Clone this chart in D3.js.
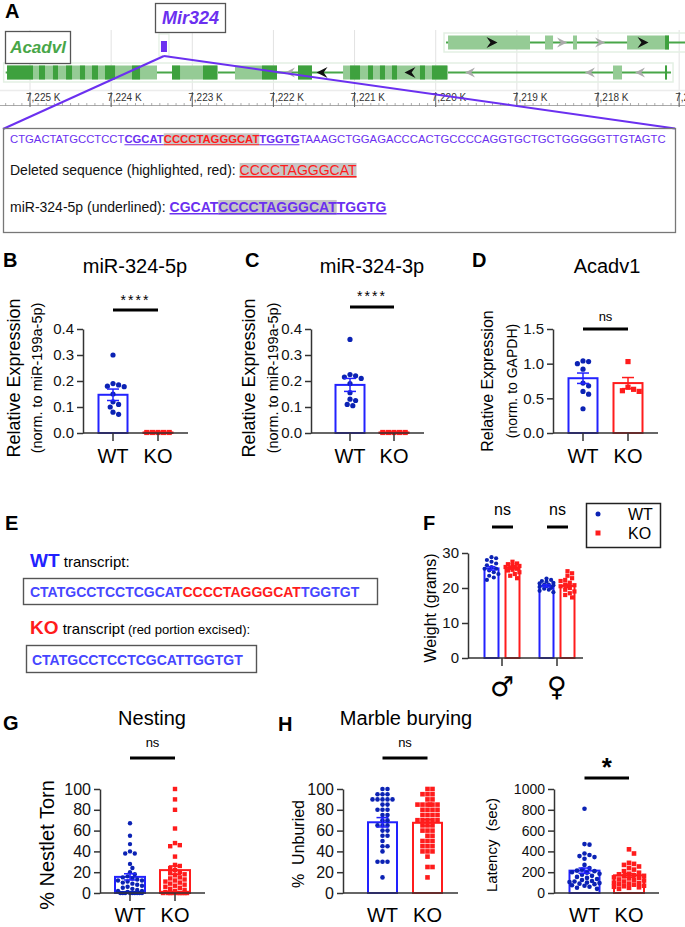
<!DOCTYPE html>
<html><head><meta charset="utf-8">
<script src="https://cdn.jsdelivr.net/npm/d3@7"></script>
<style>
body{margin:0;background:#fff}
svg{display:block}
text{font-family:"Liberation Sans",Arial,sans-serif;white-space:pre}
</style>
</head><body>
<svg id="c" width="685" height="927"></svg>
<script>
// ---------------- DATA ----------------
const groups = ["WT", "KO"];

// Panel A: genome browser (positions in kb)
const kbTicks = [7225, 7224, 7223, 7222, 7221, 7220, 7219, 7218, 7217];
const acadvlSpan = [7225.30, 7217.10];
const acadvlExons = [[7225.283,7223.435],[7223.250,7222.683],[7222.474,7221.956],[7221.697,7221.525],[7221.142,7219.848],[7217.815,7217.704],[7217.174,7217.150]];
const acadvlDark = [[7225.283,7224.963],[7224.889,7224.815],[7224.717,7224.655],[7224.556,7224.482],[7224.384,7224.322],[7224.236,7224.162],[7224.076,7223.952],[7223.743,7223.644],[7223.250,7223.151],[7222.868,7222.695],[7222.141,7221.956],[7221.697,7221.525],[7221.056,7220.933],[7220.834,7220.773],[7220.687,7220.625],[7220.539,7220.477],[7220.194,7220.132],[7220.046,7219.861],[7217.174,7217.150]];
const acadvlArrowsMain = [7221.401, 7220.317];
const acadvlArrowsMinor = [7221.796, 7219.577, 7218.099, 7217.482];
const upperSpan = [7219.873, 7216.90];
const upperExons = [[7219.848,7218.838],[7218.653,7218.554],[7218.308,7218.259],[7217.642,7217.125]];
const upperDark = [[7217.174,7217.125]];
const upperArrowsMain = [7219.306, 7217.445];
const upperArrowsMinor = [7218.443, 7217.975];
const mir324 = [7223.386, 7223.312];

const seqLine1 = [["CTGACTATGCCTCCT","plain"],["CGCAT","mir"],["CCCCTAGGGCAT","deleted"],["TGGTG","mir"],["TAAAGCTGGAGACCCACTGCCCCAGGTGCTGCTGGGGGTTGTAGTC","plain"]];
const seqLine2 = [["Deleted sequence (highlighted, red):\u00a0","label"],["CCCCTAGGGCAT","deletedNormal"]];
const seqLine3 = [["miR-324-5p (underlined):\u00a0","label"],["CGCAT","mir"],["CCCCTAGGGCAT","mirHl"],["TGGTG","mir"]];

// Panel B
const b_wt = [0.30, 0.19, 0.185, 0.18, 0.178, 0.15, 0.12, 0.11, 0.10, 0.08, 0.072];
const b_ko = [0.002, 0.002, 0.002, 0.002, 0.002];
const b_mean = [0.147, 0.002];
const b_sem = [0.022, 0.0004];
const b_ticks = [0, 0.1, 0.2, 0.3, 0.4];
// Panel C
const c_wt = [0.36, 0.225, 0.22, 0.215, 0.21, 0.19, 0.155, 0.13, 0.125, 0.11, 0.105];
const c_ko = [0.002, 0.002, 0.002, 0.002, 0.002];
const c_mean = [0.185, 0.002];
const c_sem = [0.025, 0.0004];
const c_ticks = [0, 0.1, 0.2, 0.3, 0.4];
// Panel D
const d_wt = [1.04, 1.03, 1.0, 0.92, 0.72, 0.68, 0.6, 0.56, 0.35];
const d_ko = [1.03, 0.66, 0.63, 0.61, 0.6];
const d_mean = [0.79, 0.72];
const d_sem = [0.075, 0.08];
const d_ticks = [0, 0.5, 1.0, 1.5];
// Panel E
const e_wt_seq = [["CTATGCCTCCTCGCAT","kept"],["CCCCTAGGGCAT","excised"],["TGGTGT","kept"]];
const e_ko_seq = [["CTATGCCTCCTCGCATTGGTGT","kept"]];
// Panel F
const f_sex = ["\u2642", "\u2640"];
const f_male_wt = [28.8, 28.5, 28.0, 27.5, 27.0, 26.5, 26.0, 25.5, 25.5, 25.0, 24.5, 24.0, 23.5, 23.0, 22.3];
const f_male_ko = [27.5, 27.0, 26.8, 26.5, 26.3, 26.0, 26.0, 25.8, 25.5, 25.2, 25.0, 24.5, 24.0, 23.5, 22.8];
const f_fem_wt = [22.7, 22.3, 22.0, 21.8, 21.5, 21.3, 21.0, 21.0, 20.8, 20.5, 20.3, 20.0, 19.8, 19.5, 19.2, 18.8];
const f_fem_ko = [24.8, 24.2, 23.5, 22.8, 22.3, 22.0, 21.5, 21.0, 20.8, 20.5, 20.0, 19.5, 19.0, 18.5, 18.0, 17.3];
const f_mean = [[25.6, 25.8], [20.6, 20.6]];
const f_sem = [[0.5, 0.35], [0.3, 0.5]];
const f_ticks = [0, 10, 20, 30];
// Panel G
const g_wt = [67,55,47,40,38,38,28,24,20,18,16,15,14,13,12,12,11,10,9,8,7,6,5,4,3,2,2,1,0,0,0,0,0,0,0,0,0];
const g_ko = [100,90,80,62,48,46,45,35,27,26,24,22,20,19,18,17,15,14,13,12,11,10,9,8,7,6,5,4,3,2,1,0,0,0,0,0,0,0,0,0];
const g_mean = [15.5, 22];
const g_sem = [3, 4];
const g_ticks = [0, 20, 40, 60, 80, 100];
// Panel H (unburied)
const hu_wt = [100,100,95,95,95,90,90,90,90,90,85,85,80,80,80,75,75,70,70,65,65,65,60,60,55,55,50,45,45,40,30,30,30,15];
const hu_ko = [100,100,95,95,95,90,90,85,85,85,85,85,85,80,80,80,80,75,75,75,75,70,70,70,70,70,65,65,65,60,60,60,55,55,50,50,50,45,45,45,40,40,40,35,25,25,15];
const hu_mean = [68, 67.5];
const hu_sem = [4.5, 3];
const hu_ticks = [0, 20, 40, 60, 80, 100];
// Panel H (latency)
const hl_wt = [810,470,465,380,365,355,345,330,270,240,225,215,210,200,195,185,175,165,155,145,135,125,115,110,105,100,95,90,85,75,70,60,50,40];
const hl_ko = [420,380,290,280,270,255,240,225,210,195,185,180,170,165,160,150,145,140,130,125,120,110,100,95,90,85,80,70,65,60,55,50,40];
const hl_mean = [215, 170];
const hl_sem = [25, 18];
const hl_ticks = [0, 200, 400, 600, 800, 1000];

// ---------------- STYLE ----------------
const BLUE_BAR = "#2222ff", BLUE_PT = "#0b22b4", RED = "#ff1c1c", PURPLE = "#6b30f0";
const GREEN = "#48a648", GREEN_L = "#95cb95", GREEN_D = "#2f9a2f";
const AX = "#333";
const svg = d3.select("#c");

function txt(g, x, y, s, o = {}) {
  const t = g.append("text").attr("x", x).attr("y", y).text(s)
    .attr("font-size", o.size || 14).attr("fill", o.fill || "#000")
    .attr("font-weight", o.bold ? "bold" : "normal")
    .attr("text-anchor", o.anchor || "start");
  if (o.italic) t.attr("font-style", "italic");
  if (o.ls) t.attr("letter-spacing", o.ls);
  if (o.family) t.style("font-family", o.family);
  if (o.rot) t.attr("transform", `rotate(-90,${x},${y})`);
  return t;
}

// panel letters
[["A",5,18],["B",3,267],["C",245,267],["D",472,267],["E",5,530],["F",423,530],["G",3,730],["H",278,731]]
  .forEach(([l,x,y]) => txt(svg, x, y, l, {size: 20, bold: true}));

// ---------------- PANEL A ----------------
(function(){
  const g = svg.append("g");
  const x = d3.scaleLinear().domain([7225, 7218]).range([30, 598]);
  kbTicks.forEach(k => g.append("line").attr("x1", x(k)).attr("x2", x(k)).attr("y1", 30).attr("y2", 90)
    .attr("stroke", "#e2e2e2").attr("stroke-width", 1));
  g.append("line").attr("x1", 0).attr("x2", 685).attr("y1", 90.5).attr("y2", 90.5).attr("stroke", "#ececec").attr("stroke-width", 1.5);
  g.append("line").attr("x1", 0).attr("x2", 685).attr("y1", 105.5).attr("y2", 105.5).attr("stroke", "#aaa").attr("stroke-width", 1);
  d3.range(7225.4, 7216.8, -0.1).forEach(k => g.append("line").attr("x1", x(k)).attr("x2", x(k)).attr("y1", 103).attr("y2", 106)
    .attr("stroke", "#999").attr("stroke-width", 0.8));
  kbTicks.forEach(k => {
    g.append("line").attr("x1", x(k)).attr("x2", x(k)).attr("y1", 92).attr("y2", 107).attr("stroke", "#666").attr("stroke-width", 1);
    txt(g, x(k) - 4, 101, d3.format(",")(k) + " K", {size: 10, fill: "#333"});
  });
  function track(span, exons, dark, yMid, h, mainA, minorA, dir) {
    const x0 = x(span[0]), x1 = x(span[1]);
    g.append("rect").attr("x", x0 - 2).attr("y", yMid - h/2 - 2.5).attr("width", x1 - x0 + 4).attr("height", h + 5)
      .attr("fill", "none").attr("stroke", "#e3f0e3").attr("stroke-width", 1.5);
    g.append("line").attr("x1", x0).attr("x2", x1).attr("y1", yMid).attr("y2", yMid).attr("stroke", GREEN).attr("stroke-width", 2);
    exons.forEach(e => g.append("rect").attr("x", x(e[0])).attr("y", yMid - h/2).attr("width", x(e[1]) - x(e[0])).attr("height", h).attr("fill", GREEN_L));
    dark.forEach(e => g.append("rect").attr("x", x(e[0])).attr("y", yMid - h/2).attr("width", Math.max(2, x(e[1]) - x(e[0]))).attr("height", h).attr("fill", GREEN_D).attr("opacity", 0.85));
    const arrow = (k, col, s) => {
      const cx = x(k), p = dir * s;
      g.append("path").attr("d", `M${cx - p},${yMid - s} L${cx + p},${yMid} L${cx - p},${yMid + s} L${cx - p*0.3},${yMid} Z`).attr("fill", col);
    };
    mainA.forEach(k => arrow(k, "#111", 5.5));
    minorA.forEach(k => arrow(k, "#aaa", 5));
  }
  track(upperSpan, upperExons, upperDark, 42.5, 14, upperArrowsMain, upperArrowsMinor, 1);
  track(acadvlSpan, acadvlExons, acadvlDark, 72.5, 14, acadvlArrowsMain, acadvlArrowsMinor, -1);
  g.append("rect").attr("x", x(mir324[0]) - 2).attr("y", 34).attr("width", x(mir324[1]) - x(mir324[0]) + 4).attr("height", 22)
    .attr("fill", "none").attr("stroke", "#e3f0e3").attr("stroke-width", 1.2);
  g.append("rect").attr("x", x(mir324[0])).attr("y", 41).attr("width", x(mir324[1]) - x(mir324[0])).attr("height", 11).attr("fill", PURPLE);
  g.append("rect").attr("x", 155.5).attr("y", 3.5).attr("width", 70).attr("height", 29).attr("fill", "#fff").attr("stroke", "#555").attr("stroke-width", 1.3);
  txt(g, 190.5, 24, "Mir324", {size: 18, bold: true, italic: true, fill: PURPLE, anchor: "middle"});
  g.append("rect").attr("x", 5.5).attr("y", 31.5).attr("width", 65).attr("height", 32).attr("fill", "#fff").attr("stroke", "#555").attr("stroke-width", 1.3);
  txt(g, 38, 53, "Acadvl", {size: 17, bold: true, italic: true, fill: GREEN, anchor: "middle"});
  const mx = (x(mir324[0]) + x(mir324[1])) / 2;
  g.append("line").attr("x1", mx).attr("y1", 56).attr("x2", 3).attr("y2", 129).attr("stroke", PURPLE).attr("stroke-width", 2);
  g.append("line").attr("x1", mx).attr("y1", 56).attr("x2", 675).attr("y2", 128.5).attr("stroke", PURPLE).attr("stroke-width", 2);
  g.append("rect").attr("x", 3.5).attr("y", 128.5).attr("width", 672).attr("height", 104).attr("fill", "none").attr("stroke", "#777").attr("stroke-width", 1.3);

  const styles = {
    plain: {fill: PURPLE}, mir: {fill: PURPLE, bold: true, ul: true},
    deleted: {fill: RED, bold: true, ul: true, hl: true}, label: {fill: "#111"},
    deletedNormal: {fill: RED, ul: true, hl: true}, mirHl: {fill: PURPLE, bold: true, ul: true, hl: true}
  };
  function rich(x0, y, segs, size) {
    const hl = g.append("g"), tx = g.append("g");
    let cx = x0;
    segs.forEach(([s, k]) => {
      const st = styles[k];
      const t = txt(tx, cx, y, s, {size, fill: st.fill, bold: st.bold});
      const w = t.node().getComputedTextLength();
      if (st.hl) hl.append("rect").attr("x", cx).attr("y", y - size * 0.86).attr("width", w).attr("height", size * 1.06).attr("fill", "#c6c6c6");
      if (st.ul) tx.append("line").attr("x1", cx).attr("x2", cx + w).attr("y1", y + 1.8).attr("y2", y + 1.8).attr("stroke", st.fill).attr("stroke-width", size > 12 ? 1.5 : 1.1);
      cx += w;
    });
  }
  rich(10, 143, seqLine1, 11.3);
  rich(10, 175, seqLine2, 14);
  rich(10, 212, seqLine3, 14);
})();

// ---------------- helpers for bar+dot panels ----------------
function swarm(vals, y, d, maxHalf) {
  const placed = [];
  vals.slice().sort((a, b) => b - a).forEach(v => {
    const py = y(v);
    let best = 0, bestScore = -1;
    for (let k = 0; k < 400; k++) {
      const off = k === 0 ? 0 : (k % 2 ? 1 : -1) * Math.ceil(k / 2) * d * 0.5;
      if (Math.abs(off) > maxHalf) break;
      let md = Infinity;
      placed.forEach(p => { const q = (p.dx - off) ** 2 + (p.py - py) ** 2; if (q < md) md = q; });
      if (md >= d * d * 0.97) { best = off; break; }
      if (md > bestScore) { bestScore = md; best = off; }
    }
    placed.push({v, py, dx: best});
  });
  return placed;
}
function points(g, vals, cx, y, kind, r, maxHalf) {
  swarm(vals, y, 2 * r + 0.4, maxHalf).forEach(p => {
    if (kind === 0) g.append("circle").attr("cx", cx + p.dx).attr("cy", p.py).attr("r", r).attr("fill", BLUE_PT);
    else g.append("rect").attr("x", cx + p.dx - r).attr("y", p.py - r).attr("width", 2 * r).attr("height", 2 * r).attr("fill", RED);
  });
}
function errBar(g, cx, y, m, s, col, cap) {
  g.append("line").attr("x1", cx).attr("x2", cx).attr("y1", y(m - s)).attr("y2", y(m + s)).attr("stroke", col).attr("stroke-width", 1.5);
  [m - s, m + s].forEach(v => g.append("line").attr("x1", cx - cap/2).attr("x2", cx + cap/2).attr("y1", y(v)).attr("y2", y(v)).attr("stroke", col).attr("stroke-width", 1.5));
}
function yAxis(g, y, ax, ticks, fmt, fs) {
  const a = g.append("g").attr("transform", `translate(${ax},0)`)
    .call(d3.axisLeft(y).tickValues(ticks).tickFormat(d3.format(fmt)).tickSize(6).tickSizeOuter(0).tickPadding(3));
  a.select(".domain").attr("stroke", AX).attr("stroke-width", 1.5);
  a.selectAll(".tick line").attr("stroke", AX).attr("stroke-width", 1.5);
  a.selectAll(".tick text").attr("font-size", fs).attr("fill", "#111").attr("font-family", '"Liberation Sans", Arial, sans-serif');
}
function sig(g, x1, x2, yb, label, o) {
  g.append("line").attr("x1", x1).attr("x2", x2).attr("y1", yb).attr("y2", yb).attr("stroke", "#000").attr("stroke-width", 3);
  txt(g, (x1 + x2) / 2, o.ty, label, {size: o.size, bold: o.bold, anchor: "middle", ls: o.ls});
}
function barDot(o) {
  const g = svg.append("g");
  const y = d3.scaleLinear().domain(o.domain).range([o.y0, o.yTop]);
  const x = d3.scalePoint().domain(groups).range(o.xr);
  groups.forEach((c, i) => {
    const m = o.means[i];
    g.append("rect").attr("x", x(c) - o.bw / 2).attr("y", y(m)).attr("width", o.bw).attr("height", y(0) - y(m))
      .attr("fill", "#fff").attr("stroke", i ? RED : BLUE_BAR).attr("stroke-width", 2);
  });
  groups.forEach((c, i) => points(g, o.data[i], x(c), y, i, o.r, o.maxHalf || 15));
  groups.forEach((c, i) => errBar(g, x(c), y, o.means[i], o.sems[i], i ? RED : BLUE_BAR, o.cap || 12));
  yAxis(g, y, o.ax, o.ticks, o.fmt, o.tfs);
  g.append("line").attr("x1", o.ax).attr("x2", o.xEnd).attr("y1", y(0)).attr("y2", y(0)).attr("stroke", AX).attr("stroke-width", 1.5);
  if (o.xt) groups.forEach(c => g.append("line").attr("x1", x(c)).attr("x2", x(c)).attr("y1", y(0)).attr("y2", y(0) + 8).attr("stroke", AX).attr("stroke-width", 1.5));
  groups.forEach(c => txt(g, x(c), o.catY, c, {size: 20, anchor: "middle"}));
  if (o.title) txt(g, o.title[1], o.title[2], o.title[0], {size: 20, anchor: "middle"});
  o.ylab.forEach(([s, lx, fs]) => txt(g, lx, o.ylabY, s, {size: fs, rot: true, anchor: "middle"}));
  sig(g, x(groups[0]), x(groups[1]), o.sigY, o.sig[0], o.sig[1]);
  return g;
}

// ---------------- PANELS B, C, D ----------------
barDot({domain: [0, 0.4], y0: 433, yTop: 329, xr: [113, 158], bw: 29, ax: 83, xEnd: 188, ticks: b_ticks, fmt: ".1f", tfs: 15,
  data: [b_wt, b_ko], means: b_mean, sems: b_sem, r: 2.6, maxHalf: 14, xt: true, catY: 463, title: ["miR-324-5p", 135, 273],
  ylab: [["Relative Expression", 20, 18], ["(norm. to miR-199a-5p)", 42, 14.5]], ylabY: 378,
  sigY: 310, sig: ["****", {ty: 305, size: 14, ls: 2}]});
barDot({domain: [0, 0.4], y0: 433, yTop: 329, xr: [350, 394], bw: 29, ax: 311, xEnd: 424, ticks: c_ticks, fmt: ".1f", tfs: 15,
  data: [c_wt, c_ko], means: c_mean, sems: c_sem, r: 2.6, maxHalf: 14, xt: true, catY: 463, title: ["miR-324-3p", 372, 273],
  ylab: [["Relative Expression", 255, 18], ["(norm. to miR-199a-5p)", 278, 14.5]], ylabY: 378,
  sigY: 307, sig: ["****", {ty: 301, size: 14, ls: 2}]});
barDot({domain: [0, 1.5], y0: 433, yTop: 329, xr: [583, 628], bw: 29, ax: 553, xEnd: 658, ticks: d_ticks, fmt: ".1f", tfs: 15,
  data: [d_wt, d_ko], means: d_mean, sems: d_sem, r: 2.6, maxHalf: 14, xt: true, catY: 463, title: ["Acadv1", 607, 273],
  ylab: [["Relative Expression", 493, 16], ["(norm. to GAPDH)", 517, 14]], ylabY: 381,
  sigY: 329, sig: ["ns", {ty: 321, size: 13}]});

// ---------------- PANEL E ----------------
(function(){
  const g = svg.append("g");
  const col = {kept: "#4646ff", excised: RED};
  let t = txt(g, 30, 567, "WT", {size: 19, bold: true, fill: BLUE_BAR});
  txt(g, 30 + t.node().getComputedTextLength(), 567, " transcript:", {size: 15});
  g.append("rect").attr("x", 23.5).attr("y", 578.5).attr("width", 354).attr("height", 26).attr("fill", "none").attr("stroke", "#555").attr("stroke-width", 1.4);
  let cx = 30;
  e_wt_seq.forEach(([s, k]) => { const tt = txt(g, cx, 597, s, {size: 14, bold: true, fill: col[k]}); cx += tt.node().getComputedTextLength(); });
  t = txt(g, 30, 634, "KO", {size: 19, bold: true, fill: RED});
  const w1 = t.node().getComputedTextLength();
  const t2 = txt(g, 30 + w1, 634, " transcript", {size: 15});
  txt(g, 30 + w1 + t2.node().getComputedTextLength(), 634, " (red portion excised):", {size: 13});
  g.append("rect").attr("x", 26.5).attr("y", 645.5).attr("width", 230).attr("height", 27).attr("fill", "none").attr("stroke", "#555").attr("stroke-width", 1.4);
  cx = 32;
  e_ko_seq.forEach(([s, k]) => { const tt = txt(g, cx, 665, s, {size: 14, bold: true, fill: col[k]}); cx += tt.node().getComputedTextLength(); });
})();

// ---------------- PANEL F ----------------
(function(){
  const g = svg.append("g");
  const y = d3.scaleLinear().domain([0, 30]).range([658, 553]);
  const xg = d3.scalePoint().domain(f_sex).range([502, 557]);
  const xi = d3.scalePoint().domain(groups).range([-10.5, 10.5]);
  const data = [[f_male_wt, f_male_ko], [f_fem_wt, f_fem_ko]];
  f_sex.forEach((s, si) => groups.forEach((c, i) => {
    const cx = xg(s) + xi(c), m = f_mean[si][i];
    g.append("rect").attr("x", cx - 7).attr("y", y(m)).attr("width", 14).attr("height", y(0) - y(m))
      .attr("fill", "#fff").attr("stroke", i ? RED : BLUE_BAR).attr("stroke-width", 2);
  }));
  f_sex.forEach((s, si) => groups.forEach((c, i) => points(g, data[si][i], xg(s) + xi(c), y, i, 2.1, 8)));
  f_sex.forEach((s, si) => groups.forEach((c, i) => errBar(g, xg(s) + xi(c), y, f_mean[si][i], f_sem[si][i], i ? RED : BLUE_BAR, 8)));
  yAxis(g, y, 468, f_ticks, "d", 15);
  g.append("line").attr("x1", 468).attr("x2", 583).attr("y1", y(0)).attr("y2", y(0)).attr("stroke", AX).attr("stroke-width", 1.5);
  f_sex.forEach(s => {
    g.append("line").attr("x1", xg(s)).attr("x2", xg(s)).attr("y1", y(0)).attr("y2", y(0) + 8).attr("stroke", AX).attr("stroke-width", 1.5);
    txt(g, xg(s), 696, s, {size: 27, anchor: "middle", family: '"DejaVu Sans", sans-serif'});
    sig(g, xg(s) - 10, xg(s) + 11, 527, "ns", {ty: 515, size: 16});
  });
  txt(g, 436, 608, "Weight (grams)", {size: 16, rot: true, anchor: "middle"});
  g.append("rect").attr("x", 586.5).attr("y", 503.5).attr("width", 74).attr("height", 44).attr("fill", "#fff").attr("stroke", "#222").attr("stroke-width", 1.5);
  g.append("circle").attr("cx", 598).attr("cy", 514).attr("r", 2.5).attr("fill", BLUE_PT);
  g.append("rect").attr("x", 595.5).attr("y", 530.5).attr("width", 5).attr("height", 5).attr("fill", RED);
  txt(g, 628, 520, groups[0], {size: 16});
  txt(g, 628, 539, groups[1], {size: 16});
})();

// ---------------- PANELS G, H ----------------
barDot({domain: [0, 100], y0: 893, yTop: 789, xr: [130, 175], bw: 30, ax: 100, xEnd: 205, ticks: g_ticks, fmt: "d", tfs: 16,
  data: [g_wt, g_ko], means: g_mean, sems: g_sem, r: 2.2, maxHalf: 14, xt: true, catY: 922, title: ["Nesting", 152, 725],
  ylab: [["% Nestlet Torn", 54, 20]], ylabY: 845, sigY: 758, sig: ["ns", {ty: 747, size: 13}]});
barDot({domain: [0, 100], y0: 893, yTop: 789, xr: [382.5, 427.5], bw: 29, ax: 343, xEnd: 458, ticks: hu_ticks, fmt: "d", tfs: 16,
  data: [hu_wt, hu_ko], means: hu_mean, sems: hu_sem, r: 2.3, maxHalf: 14, xt: false, catY: 922, title: null,
  ylab: [["%  Unburied", 304, 16]], ylabY: 844, sigY: 758, sig: ["ns", {ty: 747, size: 13}]});
txt(svg, 406, 725, "Marble burying", {size: 20, anchor: "middle"});
barDot({domain: [0, 1000], y0: 893, yTop: 789, xr: [584.5, 629], bw: 30, ax: 554, xEnd: 659, ticks: hl_ticks, fmt: "d", tfs: 14,
  data: [hl_wt, hl_ko], means: hl_mean, sems: hl_sem, r: 2.3, maxHalf: 15, xt: false, catY: 922, title: null,
  ylab: [["Latency  (sec)", 497, 15]], ylabY: 845, sigY: 778, sig: ["*", {ty: 776, size: 26, bold: true}]});
</script>
</body></html>
